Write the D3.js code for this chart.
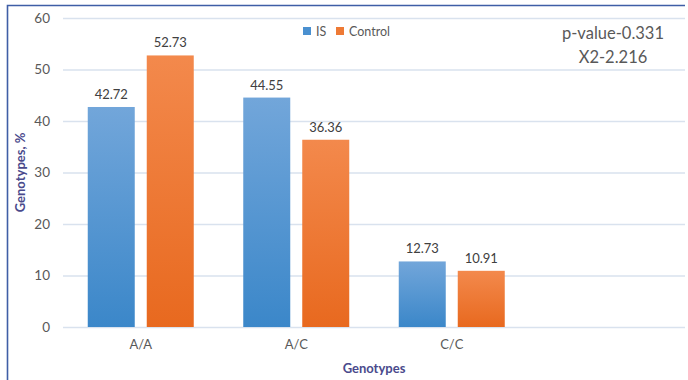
<!DOCTYPE html>
<html>
<head>
<meta charset="utf-8">
<script src="https://cdn.jsdelivr.net/npm/d3@7"></script>
<style>
  html, body { margin: 0; padding: 0; background: #fff; }
  svg { display: block; font-family: Lato, "Open Sans", sans-serif; }
</style>
</head>
<body>
<svg id="chart" width="688" height="380"></svg>
<script>
// Genotype frequencies (%) per group
const categories = ["A/A", "A/C", "C/C", ""];
const seriesNames = ["IS", "Control"];
const isValues = [42.72, 44.55, 12.73];
const controlValues = [52.73, 36.36, 10.91];
const yTicks = [0, 10, 20, 30, 40, 50, 60];
const statLines = ["p-value-0.331", "X2-2.216"];

const svg = d3.select("#chart");
const margin = { left: 63, right: 3, top: 18, bottom: 53 };
const W = 688, H = 380;

// chart frame
svg.append("path")
  .attr("d", "M7.5,380 L7.5,5.5 L685,5.5")
  .attr("fill", "none").attr("stroke", "#3f5ea6").attr("stroke-width", 1.6);

const x = d3.scaleBand().domain(categories).range([margin.left, W - margin.right]);
const y = d3.scaleLinear().domain([0, 60]).range([H - margin.bottom, margin.top]);

// gradients for the bars
const defs = svg.append("defs");
function grad(id, top, bottom) {
  const g = defs.append("linearGradient").attr("id", id)
    .attr("x1", 0).attr("y1", 0).attr("x2", 0).attr("y2", 1);
  g.append("stop").attr("offset", "0%").attr("stop-color", top);
  g.append("stop").attr("offset", "100%").attr("stop-color", bottom);
}
grad("gBlue", "#72a6da", "#3b87c9");
grad("gOrange", "#f3894c", "#e8691f");

// gridlines
svg.append("g").selectAll("line").data(yTicks).join("line")
  .attr("x1", margin.left).attr("x2", W - margin.right)
  .attr("y1", d => y(d) + 0.5).attr("y2", d => y(d) + 0.5)
  .attr("stroke", "#d9e2ee").attr("stroke-width", 1.3);

// y axis
const yAxis = svg.append("g").attr("transform", `translate(${margin.left - 10},0)`)
  .call(d3.axisLeft(y).tickValues(yTicks).tickSize(0).tickPadding(3));
yAxis.select(".domain").remove();
yAxis.selectAll("text").attr("fill", "#595959").attr("font-size", 13.5)
  .attr("font-family", "Lato, sans-serif");

// x axis
const xAxis = svg.append("g").attr("transform", `translate(0,${H - margin.bottom})`)
  .call(d3.axisBottom(x).tickSize(0).tickPadding(13));
xAxis.select(".domain").remove();
xAxis.selectAll("text").attr("fill", "#595959").attr("font-size", 13)
  .attr("font-family", "Lato, sans-serif");

// bars
const barW = 47, gap = 12;
const groupW = barW * 2 + gap;
const rows = [
  { name: seriesNames[0], values: isValues, fill: "url(#gBlue)", off: 0 },
  { name: seriesNames[1], values: controlValues, fill: "url(#gOrange)", off: barW + gap }
];
rows.forEach(s => {
  const g = svg.append("g");
  const data = s.values.map((v, i) => ({ cat: categories[i], v }));
  const bx = d => x(d.cat) + (x.bandwidth() - groupW) / 2 + s.off;
  g.selectAll("rect").data(data).join("rect")
    .attr("x", bx).attr("width", barW)
    .attr("y", d => y(d.v)).attr("height", d => y(0) - y(d.v))
    .attr("fill", s.fill);
  g.selectAll("text").data(data).join("text")
    .attr("x", d => bx(d) + barW / 2).attr("y", d => y(d.v) - 8)
    .attr("text-anchor", "middle").attr("fill", "#404040").attr("font-size", 13)
    .text(d => d.v.toFixed(2));
});

// legend
const legend = svg.append("g").attr("transform", "translate(303,32)");
const items = [
  { label: seriesNames[0], color: "#4a90d0", x: 0 },
  { label: seriesNames[1], color: "#ee7a35", x: 33 }
];
items.forEach(it => {
  legend.append("rect").attr("x", it.x).attr("y", -5).attr("width", 8).attr("height", 8)
    .attr("fill", it.color);
  legend.append("text").attr("x", it.x + 13).attr("y", 4).attr("fill", "#595959")
    .attr("font-size", 12.5).text(it.label);
});

// statistics note
svg.append("g").selectAll("text").data(statLines).join("text")
  .attr("x", 613).attr("y", (d, i) => 39 + i * 24)
  .attr("text-anchor", "middle").attr("fill", "#595959").attr("font-size", 16.5)
  .text(d => d);

// axis titles
svg.append("text")
  .attr("x", (margin.left + W - margin.right) / 2).attr("y", 373)
  .attr("text-anchor", "middle").attr("fill", "#4a4a8c").attr("font-size", 13)
  .attr("font-weight", "bold").text("Genotypes");
svg.append("text")
  .attr("transform", `translate(25,${(y(0) + y(60)) / 2}) rotate(-90)`)
  .attr("text-anchor", "middle").attr("fill", "#4a4a8c").attr("font-size", 13)
  .attr("font-weight", "bold").text("Genotypes, %");
</script>
</body>
</html>
